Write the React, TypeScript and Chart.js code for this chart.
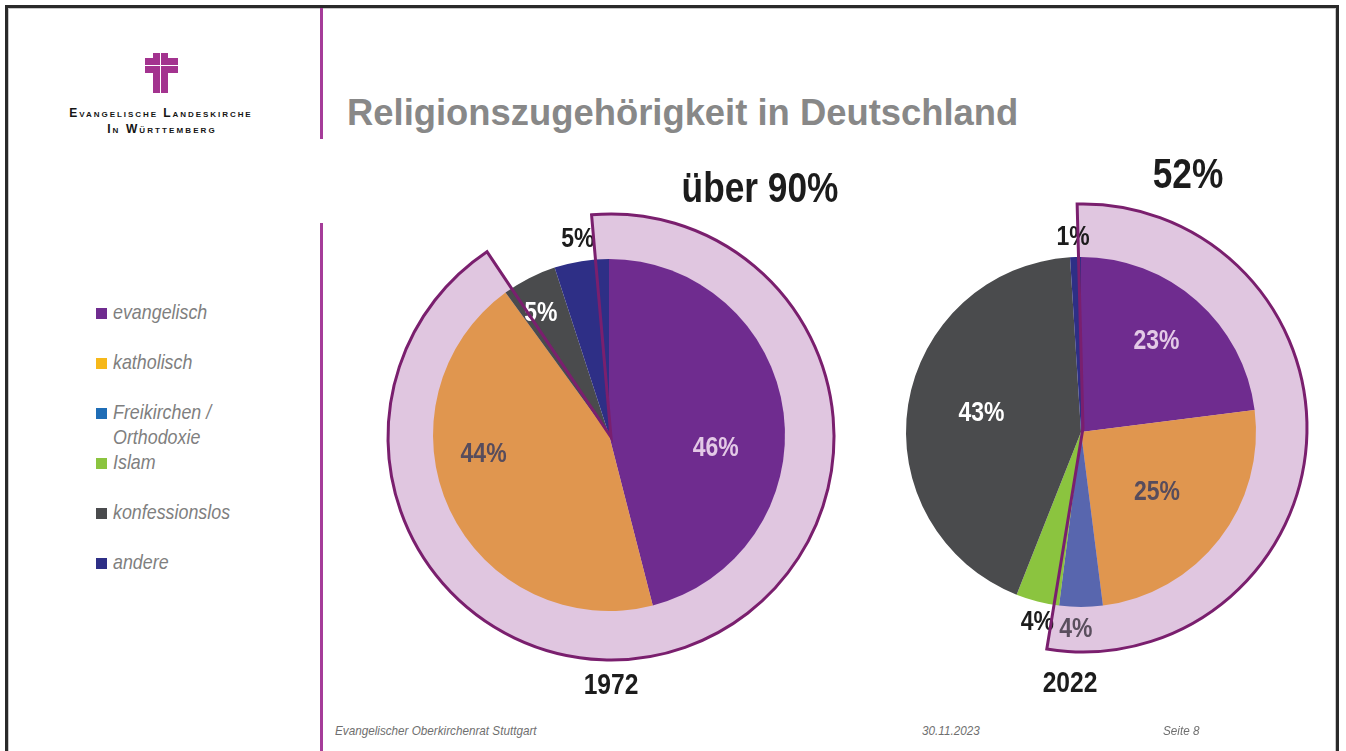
import React, { useEffect, useRef } from "react";
import { Chart, registerables } from "chart.js";

Chart.register(...registerables);

// ---------- data ----------
const categories = ["evangelisch", "katholisch", "Freikirchen / Orthodoxie", "Islam", "konfessionslos", "andere"];
const legendLines = [["evangelisch"], ["katholisch"], ["Freikirchen /", "Orthodoxie"], ["Islam"], ["konfessionslos"], ["andere"]];
const values1972 = [46, 44, 0, 0, 5, 5];
const values2022 = [23, 25, 4, 4, 43, 1];
// share of the circle covered by the highlighted wedge (church members) and the rest, as drawn
const highlightLabels = ["Kirchenmitglieder", "übrige"];
const highlight1972 = [92, 8];
const highlight2022 = [53, 47];
const years = ["1972", "2022"];
const headlines = ["über 90%", "52%"];
const title = "Religionszugehörigkeit in Deutschland";
const footerLeft = "Evangelischer Oberkirchenrat Stuttgart";
const footerDate = "30.11.2023";
const footerPage = "Seite 8";

// ---------- styles ----------
const sliceColors = ["#6F2C8F", "#E0964F", "#5866AE", "#8BC43F", "#4A4B4D", "#2E2F86"];
const legendColors = ["#6F2C8F", "#F6B81A", "#1F6DB6", "#8BC43F", "#4A4B4D", "#2E2F86"];
const HL_FILL = "#E0C6E0";
const HL_LINE = "#7A1F6E";
const SANS = "'Liberation Sans', Arial, sans-serif";
const NARROW_SCALE = 0.82;

const LAV = "#E3C9E6";
const DARK = "#574C5C";
// per-slice label placement: radius as fraction of pie radius, angle shift in degrees
const labelCfg1972 = [
  { r: 0.61, shift: 14, color: LAV },
  { r: 0.72, shift: 17, color: DARK },
  { r: 0.6, shift: 0, color: "#fff" },
  { r: 0.6, shift: 0, color: "#fff" },
  { r: 0.8, shift: -2, color: "#fff" },
  { r: 1.13, shift: 0, color: "#1c1c1c" },
];
const labelCfg2022 = [
  { r: 0.68, shift: -2, color: LAV },
  { r: 0.55, shift: 0, color: DARK },
  { r: 1.12, shift: 1.5, color: "#5a4f5e" },
  { r: 1.11, shift: -1.4, color: "#1c1c1c" },
  { r: 0.58, shift: 2, color: "#fff" },
  { r: 1.12, shift: -0.5, color: "#1c1c1c" },
];

const CANVAS = 500;

function makeLabelPlugin(cfg: { r: number; shift: number; color: string }[]) {
  return {
    id: "sliceLabels",
    afterDatasetsDraw(chart: any) {
      const meta = chart.getDatasetMeta(0);
      const vals = chart.data.datasets[0].data as number[];
      const ctx = chart.ctx as CanvasRenderingContext2D;
      meta.data.forEach((arc: any, i: number) => {
        const v = vals[i];
        if (!v) return;
        const c = cfg[i];
        const p = arc.getProps(["x", "y", "startAngle", "endAngle", "outerRadius"], true);
        const a = (p.startAngle + p.endAngle) / 2 + (c.shift * Math.PI) / 180;
        const r = p.outerRadius * c.r;
        ctx.save();
        ctx.translate(p.x + r * Math.cos(a), p.y + r * Math.sin(a));
        ctx.scale(NARROW_SCALE, 1);
        ctx.font = `bold 28px ${SANS}`;
        ctx.fillStyle = c.color;
        ctx.textAlign = "center";
        ctx.textBaseline = "middle";
        ctx.fillText(`${v}%`, 0, 1);
        ctx.restore();
      });
    },
  };
}

const baseOptions = (radius: number, rotation: number) => ({
  responsive: false,
  maintainAspectRatio: false,
  animation: false as const,
  events: [] as any[],
  radius,
  rotation,
  layout: { padding: 0 },
  plugins: { legend: { display: false }, tooltip: { enabled: false }, title: { display: false } },
});

function ChartCanvas({ cx, cy, build }: { cx: number; cy: number; build: () => any }) {
  const ref = useRef<HTMLCanvasElement>(null);
  useEffect(() => {
    const chart = new Chart(ref.current as HTMLCanvasElement, build());
    return () => chart.destroy();
  }, []);
  return (
    <canvas
      ref={ref}
      width={CANVAS}
      height={CANVAS}
      style={{ position: "absolute", left: cx - CANVAS / 2, top: cy - CANVAS / 2, width: CANVAS, height: CANVAS }}
    />
  );
}

function HighlightedPie(props: {
  cx: number; cy: number; r: number;
  hx: number; hy: number; hr: number; hRot: number;
  values: number[]; highlight: number[];
  labels: { r: number; shift: number; color: string }[];
}) {
  const { cx, cy, r, hx, hy, hr, hRot, values, highlight, labels } = props;
  return (
    <>
      <ChartCanvas
        cx={hx}
        cy={hy}
        build={() => ({
          type: "pie",
          data: {
            labels: highlightLabels,
            datasets: [{ data: highlight, backgroundColor: [HL_FILL, "rgba(0,0,0,0)"], borderWidth: 0 }],
          },
          options: baseOptions(hr, hRot),
        })}
      />
      <ChartCanvas
        cx={cx}
        cy={cy}
        build={() => ({
          type: "pie",
          data: {
            labels: categories,
            datasets: [{ data: values, backgroundColor: sliceColors, borderWidth: 0 }],
          },
          options: baseOptions(r, 0),
          plugins: [makeLabelPlugin(labels)],
        })}
      />
      <ChartCanvas
        cx={hx}
        cy={hy}
        build={() => ({
          type: "pie",
          data: {
            labels: highlightLabels,
            datasets: [
              {
                data: highlight,
                backgroundColor: ["rgba(0,0,0,0)", "rgba(0,0,0,0)"],
                borderColor: [HL_LINE, "rgba(0,0,0,0)"],
                borderWidth: [3, 0],
                borderJoinStyle: "miter",
              },
            ],
          },
          options: baseOptions(hr, hRot),
        })}
      />
    </>
  );
}

const abs = (s: React.CSSProperties): React.CSSProperties => ({ position: "absolute", whiteSpace: "nowrap", ...s });

function CenterText({ x, y, size, text }: { x: number; y: number; size: number; text: string }) {
  return (
    <div
      style={abs({
        left: x, top: y, transform: `translate(-50%,-50%) scaleX(${NARROW_SCALE})`,
        font: `bold ${size}px ${SANS}`, lineHeight: `${size}px`, color: "#1c1c1c",
      })}
    >
      {text}
    </div>
  );
}

export default function App() {
  return (
    <div style={{ position: "absolute", left: 0, top: 0, width: 1346, height: 751, background: "#fff", overflow: "hidden" }}>
      {/* slide frame */}
      <div
        style={abs({
          left: 5, top: 5, width: 1328, height: 800,
          borderTop: "3px solid #2a2a2a", borderLeft: "3px solid #2a2a2a", borderRight: "3px solid #2a2a2a",
          boxShadow: "inset 0 0 0 1px #c8c8c8",
        })}
      />
      {/* purple separator */}
      <div style={abs({ left: 320, top: 8, width: 2.5, height: 131, background: "#A53C99" })} />
      <div style={abs({ left: 320, top: 223, width: 2.5, height: 540, background: "#A53C99" })} />

      {/* logo */}
      <div style={abs({ left: 153, top: 53, width: 15, height: 40, background: "#A3338F" })} />
      <div style={abs({ left: 145, top: 58, width: 33, height: 15, background: "#A3338F" })} />
      <div style={abs({ left: 160, top: 53, width: 1.2, height: 40, background: "#fff" })} />
      <div style={abs({ left: 145, top: 65, width: 33, height: 1.2, background: "#fff" })} />
      <div
        style={abs({
          left: 161, top: 113, transform: "translate(-50%,-50%)", font: `600 12px ${SANS}`, lineHeight: "13px",
          fontVariant: "small-caps", letterSpacing: "1.95px", color: "#151515",
        })}
      >
        Evangelische Landeskirche
      </div>
      <div
        style={abs({
          left: 162, top: 129, transform: "translate(-50%,-50%)", font: `600 12px ${SANS}`, lineHeight: "13px",
          fontVariant: "small-caps", letterSpacing: "2.1px", color: "#151515",
        })}
      >
        In Württemberg
      </div>

      {/* title */}
      <div style={abs({ left: 347, top: 92, lineHeight: "36px", font: `bold 36.4px ${SANS}`, color: "#888888" })}>{title}</div>

      {/* legend */}
      {legendLines.map((lines, i) => (
        <React.Fragment key={i}>
          <div style={abs({ left: 96, top: 308 + 50 * i, width: 11, height: 11, background: legendColors[i] })} />
          <div
            style={abs({
              left: 113, top: 299 + 50 * i, lineHeight: "25px", fontSize: 21, fontFamily: SANS,
              fontStyle: "italic", color: "#7F7F7F", transform: "scaleX(0.85)", transformOrigin: "left center",
            })}
          >
            {lines.map((l, k) => (
              <div key={k}>{l}</div>
            ))}
          </div>
        </React.Fragment>
      ))}

      {/* pies */}
      <HighlightedPie
        cx={609} cy={435} r={176}
        hx={611} hy={437} hr={223} hRot={-5}
        values={values1972} highlight={highlight1972} labels={labelCfg1972}
      />
      <HighlightedPie
        cx={1081} cy={432} r={175}
        hx={1083} hy={428} hr={224} hRot={-1.5}
        values={values2022} highlight={highlight2022} labels={labelCfg2022}
      />

      {/* headlines & years */}
      <CenterText x={760} y={187} size={43} text={headlines[0]} />
      <CenterText x={1188} y={173} size={43} text={headlines[1]} />
      <CenterText x={611} y={684} size={30} text={years[0]} />
      <CenterText x={1070} y={682} size={30} text={years[1]} />

      {/* footer */}
      <div style={abs({ left: 335, top: 724, font: `italic 13px ${SANS}`, lineHeight: "14px", color: "#6f6f6f", transform: "scaleX(0.9)", transformOrigin: "left center" })}>
        {footerLeft}
      </div>
      <div style={abs({ left: 922, top: 724, font: `italic 13px ${SANS}`, lineHeight: "14px", color: "#6f6f6f", transform: "scaleX(0.9)", transformOrigin: "left center" })}>
        {footerDate}
      </div>
      <div style={abs({ left: 1163, top: 724, font: `italic 13px ${SANS}`, lineHeight: "14px", color: "#6f6f6f", transform: "scaleX(0.9)", transformOrigin: "left center" })}>
        {footerPage}
      </div>
    </div>
  );
}
